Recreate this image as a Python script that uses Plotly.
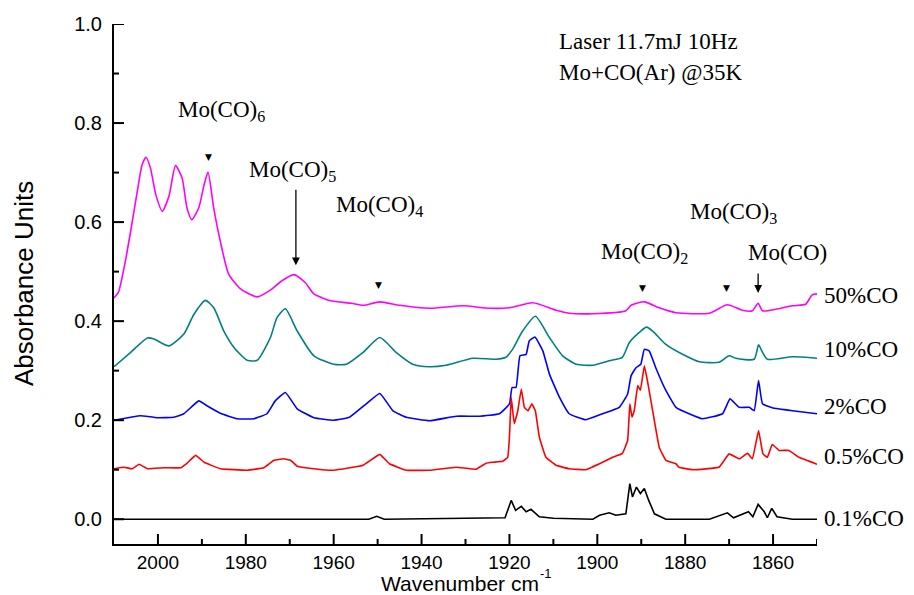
import plotly.graph_objects as go

# ---------------- data ----------------
mag_x = [2010, 2009, 2007.7, 2006.2, 2004.7, 2003.6, 2002.7, 2001.7, 2000.5, 1999.0,
         1997.5, 1996.0, 1994.5, 1993.4, 1992.3, 1990.7, 1989.5, 1988.6, 1987.3, 1985.8,
         1983.9, 1981.2, 1977.4, 1974.5, 1972, 1969.1, 1966.5, 1964.5, 1960.7, 1956,
         1953.3, 1949.5, 1945, 1938.2, 1930.6, 1924.5, 1920, 1914.7, 1909.4, 1906.4,
         1901, 1893.5, 1892.3, 1889.3, 1885.9, 1882.1, 1874.5, 1870.4, 1867, 1864.7,
         1863.4, 1862.4, 1859.4, 1855.6, 1852.6, 1851.1, 1850]
mag_y = [0.447, 0.458, 0.508, 0.582, 0.662, 0.716, 0.731, 0.709, 0.656, 0.622,
         0.652, 0.714, 0.689, 0.629, 0.605, 0.629, 0.675, 0.701, 0.628, 0.561,
         0.495, 0.465, 0.449, 0.462, 0.480, 0.494, 0.478, 0.455, 0.441, 0.436,
         0.432, 0.439, 0.432, 0.426, 0.431, 0.426, 0.427, 0.437, 0.422, 0.416,
         0.415, 0.421, 0.432, 0.439, 0.427, 0.417, 0.416, 0.433, 0.422, 0.421,
         0.436, 0.421, 0.424, 0.431, 0.434, 0.453, 0.455]

teal_x = [2010, 2006.2, 2002.4, 2000.9, 1997.5, 1994.1, 1991.8, 1989.2, 1987.3, 1985,
          1982.7, 1979.7, 1977.4, 1974.4, 1972.9, 1971, 1968.3, 1964.5, 1960, 1957.1,
          1953.3, 1949.5, 1945.8, 1942, 1938.2, 1934.4, 1928.3, 1923, 1920.8, 1919.3,
          1917, 1914.1, 1910.9, 1907.9, 1904.8, 1901, 1897.3, 1894.3, 1892.7, 1890.1,
          1888.8, 1887.4, 1884.4, 1880.6, 1876.8, 1872.3, 1870, 1868.5, 1864.3, 1863.3,
          1862.4, 1861.3, 1855.6, 1850]
teal_y = [0.308, 0.337, 0.366, 0.364, 0.350, 0.374, 0.414, 0.442, 0.427, 0.380,
          0.347, 0.321, 0.321, 0.367, 0.407, 0.425, 0.380, 0.330, 0.313, 0.313,
          0.337, 0.367, 0.337, 0.313, 0.308, 0.311, 0.325, 0.323, 0.327, 0.343,
          0.380, 0.410, 0.367, 0.330, 0.313, 0.311, 0.320, 0.327, 0.357, 0.380,
          0.388, 0.380, 0.353, 0.333, 0.318, 0.317, 0.330, 0.325, 0.323, 0.352,
          0.337, 0.323, 0.328, 0.325]

blue_x = [2010, 2006.2, 2004, 2000.2, 1996.4, 1994.1, 1990.7, 1988.8, 1985.8, 1982,
          1978.2, 1975.2, 1973.3, 1971, 1968.3, 1964.5, 1960, 1956.4, 1952.6, 1949.5,
          1946.5, 1943.5, 1938.2, 1932.1, 1926.8, 1922.3, 1920, 1919.4, 1918.5, 1917.6,
          1916.2, 1915.5, 1914.2, 1912.4, 1910.9, 1908.6, 1906.4, 1902.6, 1898.8, 1895,
          1893.1, 1892.3, 1891.2, 1890.1, 1889.3, 1888.2, 1886.7, 1884.4, 1882.1, 1879.1,
          1876.1, 1871.5, 1869.8, 1867.7, 1865.4, 1864.3, 1863.3, 1862.4, 1860.2, 1855.6,
          1850]
blue_y = [0.200, 0.206, 0.209, 0.205, 0.206, 0.213, 0.239, 0.229, 0.214, 0.203,
          0.203, 0.213, 0.239, 0.256, 0.223, 0.205, 0.200, 0.206, 0.233, 0.254,
          0.219, 0.206, 0.199, 0.208, 0.208, 0.213, 0.233, 0.266, 0.266, 0.330,
          0.333, 0.360, 0.368, 0.340, 0.293, 0.246, 0.213, 0.201, 0.213, 0.226,
          0.253, 0.290, 0.306, 0.313, 0.343, 0.340, 0.306, 0.260, 0.226, 0.213,
          0.203, 0.213, 0.243, 0.226, 0.226, 0.219, 0.280, 0.233, 0.225, 0.219,
          0.213]

red_x = [2010, 2007.7, 2005.8, 2004.3, 2002.4, 1998.6, 1994.8, 1993.4, 1991.4, 1989.5,
         1985.8, 1979.7, 1975.9, 1973.6, 1971.4, 1969.8, 1968.3, 1964.5, 1960, 1953.3,
         1949.5, 1947.3, 1943.5, 1938.2, 1932.1, 1927.6, 1925.3, 1923.8, 1921.5, 1920.4,
         1920, 1919.6, 1918.9, 1918.1, 1917.3, 1916.6, 1915.8, 1914.9, 1914.1, 1913.2,
         1911.7, 1909.4, 1906.4, 1902.6, 1898.8, 1896.5, 1894.3, 1893.1, 1892.6, 1892.1,
         1891.6, 1890.8, 1890.2, 1889.3, 1888.6, 1887.4, 1885.9, 1884.4, 1882.1, 1881.4,
         1878.3, 1872.3, 1870, 1867.7, 1865.8, 1864.7, 1863.3, 1862.3, 1861.3, 1860.2,
         1858.6, 1856.4, 1854.1, 1850]
red_y = [0.102, 0.105, 0.102, 0.111, 0.102, 0.104, 0.104, 0.113, 0.129, 0.115,
         0.102, 0.099, 0.104, 0.119, 0.122, 0.119, 0.107, 0.102, 0.099, 0.109,
         0.131, 0.112, 0.099, 0.099, 0.105, 0.101, 0.113, 0.115, 0.117, 0.125,
         0.166, 0.246, 0.193, 0.219, 0.263, 0.226, 0.219, 0.233, 0.219, 0.166,
         0.125, 0.109, 0.102, 0.100, 0.115, 0.125, 0.133, 0.159, 0.233, 0.206,
         0.219, 0.270, 0.260, 0.310, 0.280, 0.219, 0.145, 0.119, 0.112, 0.105,
         0.100, 0.105, 0.132, 0.122, 0.133, 0.122, 0.179, 0.132, 0.125, 0.151,
         0.139, 0.139, 0.125, 0.111]

black_x = [2010, 1952, 1950.2, 1948.5, 1921, 1919.6, 1918.6, 1917.3, 1916.2, 1915.1,
           1913.2, 1910, 1901, 1899.5, 1897.3, 1895.8, 1893.5, 1892.6, 1892, 1891.1,
           1890.2, 1889.3, 1888.3, 1887, 1884.4, 1874.5, 1870.4, 1869, 1865.6, 1864.6,
           1863.4, 1862, 1861.3, 1860.3, 1859.1, 1855.6, 1850]
black_y = [0.0, 0.0, 0.006, 0.0, 0.003, 0.038, 0.018, 0.026, 0.015, 0.020,
           0.005, 0.002, 0.0, 0.008, 0.013, 0.008, 0.011, 0.072, 0.045, 0.065,
           0.052, 0.062, 0.038, 0.011, 0.0, 0.0, 0.013, 0.003, 0.015, 0.005,
           0.030, 0.015, 0.003, 0.022, 0.005, 0.0, 0.0]

series_names = ["50%CO", "10%CO", "2%CO", "0.5%CO", "0.1%CO"]
series_colors = ["#FF00FF", "#008080", "#0000FF", "#FF0000", "#000000"]
series_label_y = [0.452, 0.343, 0.228, 0.127, 0.002]

x_major = [2000, 1980, 1960, 1940, 1920, 1900, 1880, 1860]
x_minor = [1990, 1970, 1950, 1930, 1910, 1890, 1870, 1850]
y_major = [0.0, 0.2, 0.4, 0.6, 0.8, 1.0]
y_minor = [0.1, 0.3, 0.5, 0.7, 0.9]

X_RANGE = [2010, 1850]
Y_RANGE = [-0.05, 1.0]

# ---------------- figure ----------------
SERIF = "Liberation Serif, Times New Roman, serif"
SANS = "Liberation Sans, Arial, sans-serif"

fig = go.Figure()
all_x = [mag_x, teal_x, blue_x, red_x, black_x]
all_y = [mag_y, teal_y, blue_y, red_y, black_y]
smooth = {"50%CO": 0.6, "10%CO": 0.6, "2%CO": 0.35, "0.5%CO": 0.25}
for xs, ys, name, col in zip(all_x, all_y, series_names, series_colors):
    if name in smooth:
        line = dict(color=col, width=1.6, shape="spline", smoothing=smooth[name])
    else:
        line = dict(color=col, width=1.6, shape="linear")
    fig.add_trace(go.Scatter(x=xs, y=ys, mode="lines", name=name, line=line))

fig.update_layout(
    width=914, height=595,
    margin=dict(l=114, r=97, t=24, b=51),
    plot_bgcolor="white", paper_bgcolor="white",
    showlegend=False,
    xaxis=dict(range=X_RANGE, tickmode="array", tickvals=x_major,
               ticktext=[str(v) for v in x_major], ticks="",
               showline=True, linewidth=2, linecolor="black",
               showgrid=False, zeroline=False, ticklabelstandoff=0,
               tickfont=dict(family=SANS, size=19, color="black")),
    yaxis=dict(range=Y_RANGE, tickmode="array", tickvals=y_major,
               ticktext=[f"{v:.1f}" for v in y_major], ticks="",
               showline=True, linewidth=2, linecolor="black",
               showgrid=False, zeroline=False, ticklabelstandoff=6,
               tickfont=dict(family=SANS, size=20, color="black")),
)

# inward tick marks (major long, minor short)
shapes = []
for v, ln in [(v, 10) for v in x_major] + [(v, 5) for v in x_minor]:
    shapes.append(dict(type="line", xref="x", yref="paper", ysizemode="pixel",
                       yanchor=0, x0=v, x1=v, y0=0, y1=ln,
                       line=dict(color="black", width=2)))
for v, ln in [(v, 10) for v in y_major] + [(v, 5) for v in y_minor]:
    shapes.append(dict(type="line", yref="y", xref="paper", xsizemode="pixel",
                       xanchor=0, y0=v, y1=v, x0=0, x1=ln,
                       line=dict(color="black", width=2)))
fig.update_layout(shapes=shapes)

ann = []
# axis titles (x title main part + its superscript)
ann.append(dict(text="Wavenumber cm", xref="paper", yref="paper",
                x=0.606, y=-0.1, xanchor="right", yanchor="bottom", showarrow=False,
                borderpad=0, font=dict(family=SANS, size=21, color="black")))
ann.append(dict(text="-1", xref="paper", yref="paper",
                x=0.605, y=-0.074, xanchor="left", yanchor="bottom", showarrow=False,
                borderpad=0, font=dict(family=SANS, size=13, color="black")))
ann.append(dict(text="Absorbance Units", xref="paper", yref="paper",
                x=-0.128, y=0.5, xanchor="center", yanchor="middle", showarrow=False,
                textangle=-90, font=dict(family=SANS, size=26, color="black")))

# series labels
for name, yv in zip(series_names, series_label_y):
    ann.append(dict(text=name, xref="paper", yref="y", x=1.007, y=yv,
                    xanchor="left", yanchor="middle", showarrow=False,
                    font=dict(family=SERIF, size=23, color="black")))

# info text
ann.append(dict(text="Laser 11.7mJ 10Hz", xref="paper", yref="y", x=0.630, y=0.964,
                xanchor="left", yanchor="middle", showarrow=False,
                font=dict(family=SERIF, size=23, color="black")))
ann.append(dict(text="Mo+CO(Ar) @35K", xref="paper", yref="y", x=0.630, y=0.903,
                xanchor="left", yanchor="middle", showarrow=False,
                font=dict(family=SERIF, size=23, color="black")))

# species labels
species = [("Mo(CO)<sub>6</sub>", 1985.5, 0.825),
           ("Mo(CO)<sub>5</sub>", 1969.3, 0.703),
           ("Mo(CO)<sub>4</sub>", 1949.5, 0.632),
           ("Mo(CO)<sub>3</sub>", 1868.9, 0.618),
           ("Mo(CO)<sub>2</sub>", 1889.3, 0.537),
           ("Mo(CO)", 1856.8, 0.539)]
for t, xv, yv in species:
    ann.append(dict(text=t, x=xv, y=yv, xref="x", yref="y", xanchor="center",
                    yanchor="middle", showarrow=False,
                    font=dict(family=SERIF, size=23, color="black")))

# triangle markers
for xv, yv in [(1988.4, 0.731), (1949.8, 0.473), (1889.8, 0.467), (1870.5, 0.467)]:
    ann.append(dict(text="▼", x=xv, y=yv, xref="x", yref="y", xanchor="center",
                    yanchor="middle", showarrow=False,
                    font=dict(family="DejaVu Sans", size=9, color="black")))

# arrows
ann.append(dict(text="", x=1968.6, y=0.513, xref="x", yref="y", showarrow=True,
                ax=0, ay=-77, arrowhead=2, arrowsize=1.2, arrowwidth=1.3, arrowcolor="black"))
ann.append(dict(text="", x=1863.4, y=0.457, xref="x", yref="y", showarrow=True,
                ax=0, ay=-21, arrowhead=2, arrowsize=1.2, arrowwidth=1.3, arrowcolor="black"))

fig.update_layout(annotations=ann)
fig.write_html("out.html")
